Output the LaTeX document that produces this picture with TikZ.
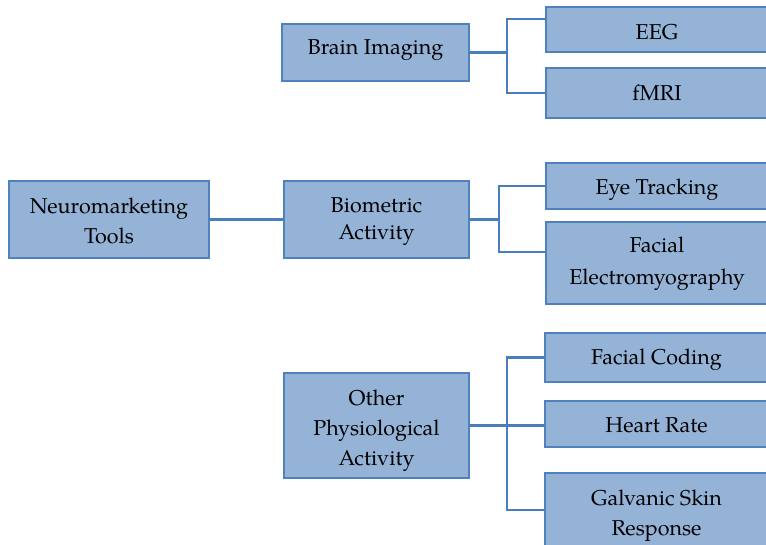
\documentclass[tikz,border=0pt]{standalone}
\usepackage{fontspec}
\setmainfont{TeX Gyre Pagella}
\usetikzlibrary{calc}
% a tall invisible strut on the first line pushes the centred text down
\newcommand\dropby[1]{\rule{0pt}{#1}}
\begin{document}
\begin{tikzpicture}[x=1pt,y=-1pt,
  box/.style={draw=boxedge, fill=boxfill, line width=1.3pt, align=center,
    inner sep=0pt, font=\fontsize{21.5}{30}\selectfont, text=black},
  lower/.style={execute at begin node={\dropby{#1}}},
  link/.style={draw=linkblue, line width=2.1pt}]
\definecolor{boxfill}{HTML}{95B3D7}
\definecolor{boxedge}{HTML}{4F81BD}
\definecolor{linkblue}{HTML}{4A7EBB}
\useasboundingbox (0,0) rectangle (766,544);

% root and second level
\node[box, minimum width=200pt, minimum height=77pt] (neuro) at (109,219.5) {\dropby{17.5pt}Neuromarketing\\Tools};
\node[box, minimum width=187pt, minimum height=57pt, text depth=11pt] (brain) at (375.5,52.5) {Brain Imaging};
\node[box, minimum width=185pt, minimum height=77pt, font=\fontsize{21.5}{27}\selectfont] (bio) at (376.5,219.5) {\dropby{19.5pt}Biometric\\Activity};
\node[box, minimum width=185pt, minimum height=105pt] (other) at (376.5,425.5) {\dropby{25.5pt}Other\\Physiological\\Activity};

% leaves
\node[box, lower=19.5pt, minimum width=222pt, minimum height=45pt] (eeg) at (657,29.5) {EEG};
\node[box, minimum width=222pt, minimum height=50pt] (fmri) at (657,93) {fMRI};
\node[box, lower=23.5pt, minimum width=222pt, minimum height=46pt] (eye) at (657,186) {Eye Tracking};
\node[box, minimum width=222pt, minimum height=82pt, font=\fontsize{21.5}{32}\selectfont] (emg) at (657,263) {\dropby{17.5pt}Facial\\Electromyography};
\node[box, lower=19.5pt, minimum width=223pt, minimum height=49pt] (fc) at (656.5,357.5) {Facial Coding};
\node[box, lower=17.5pt, minimum width=223pt, minimum height=46pt] (hr) at (656.5,424) {Heart Rate};
\node[box, minimum width=223pt, minimum height=80pt] (gsr) at (656.5,513) {\dropby{21.5pt}Galvanic Skin\\Response};

% vertical bus lines of the three branches
\coordinate (busA) at (brain.east -| 507,0);
\coordinate (busB) at (bio.east -| 499,0);
\coordinate (busC) at (other.east -| 507,0);

% connectors
\draw[link] (neuro.east) -- (bio.west);

\draw[link] (brain.east) -- (busA);
\draw[link] ([yshift=10.5pt]eeg.west) -| (busA) |- (fmri.west);

\draw[link] (bio.east) -- (busB);
\draw[link] (eye.west) -| (busB) |- ([yshift=11pt]emg.west);

\draw[link] (other.east) -- (other.east -| hr.west);
\draw[link] (fc.west) -| (busC) |- ([yshift=3pt]gsr.west);
\end{tikzpicture}
\end{document}
